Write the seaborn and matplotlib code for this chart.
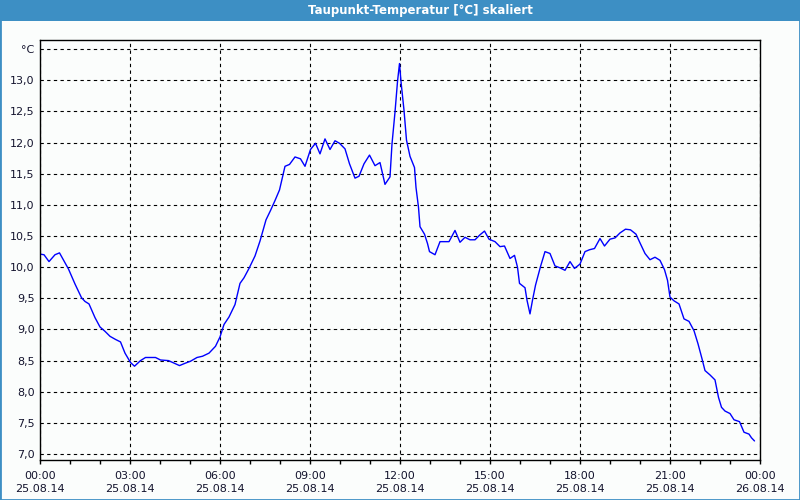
import matplotlib
matplotlib.use("Agg")
import matplotlib.pyplot as plt
import matplotlib.dates as mdates
from matplotlib.patches import Rectangle
from matplotlib.ticker import FixedLocator, FixedFormatter
import seaborn as sns
import pandas as pd

# ---- data ----
title = "Taupunkt-Temperatur [°C] skaliert"
start_day = "2014-08-25"
minutes = [0, 8, 18, 30, 39, 57, 70, 83, 90, 98, 110, 120, 130, 140, 151, 161, 170,
           181, 189, 201, 211, 231, 241, 257, 268, 279, 291, 301, 314, 325, 338, 351,
           360, 368, 378, 390, 400, 408, 418, 430, 440, 445, 452, 461, 470, 479, 490,
           499, 510, 521, 530, 541, 551, 560, 570, 580, 590, 599, 610, 619, 630, 638,
           648, 659, 670, 680, 690, 700, 704, 710, 715, 719, 722, 728, 733, 740, 749,
           752, 757, 760, 769, 775, 779, 790, 800, 818, 830, 840, 850, 860, 870, 880,
           889, 898, 910, 920, 929, 940, 949, 955, 959, 970, 974, 980, 985, 991, 1001,
           1010, 1020, 1030, 1040, 1050, 1060, 1069, 1080, 1090, 1099, 1109, 1120, 1129,
           1140, 1150, 1160, 1171, 1181, 1192, 1200, 1210, 1220, 1230, 1240, 1249, 1255,
           1260, 1268, 1278, 1288, 1298, 1308, 1316, 1324, 1330, 1340, 1350, 1357, 1363,
           1370, 1380, 1388, 1399, 1408, 1418, 1423, 1429]
dew_point = [10.21, 10.20, 10.09, 10.20, 10.23, 9.97, 9.73, 9.51, 9.45, 9.41, 9.19, 9.04,
             8.97, 8.89, 8.84, 8.80, 8.62, 8.47, 8.41, 8.50, 8.55, 8.55, 8.51, 8.50, 8.46,
             8.42, 8.46, 8.49, 8.55, 8.57, 8.62, 8.73, 8.88, 9.08, 9.20, 9.40, 9.74, 9.83,
             9.98, 10.18, 10.42, 10.56, 10.76, 10.91, 11.07, 11.24, 11.62, 11.65, 11.77,
             11.74, 11.62, 11.89, 11.99, 11.82, 12.06, 11.89, 12.03, 11.99, 11.90, 11.66,
             11.43, 11.46, 11.66, 11.80, 11.63, 11.68, 11.33, 11.45, 11.98, 12.49, 12.98,
             13.27, 12.98, 12.52, 12.04, 11.78, 11.60, 11.28, 10.96, 10.65, 10.53, 10.38,
             10.25, 10.20, 10.41, 10.41, 10.59, 10.40, 10.48, 10.44, 10.44, 10.52, 10.58,
             10.45, 10.41, 10.33, 10.34, 10.14, 10.19, 10.00, 9.74, 9.67, 9.47, 9.25, 9.47,
             9.71, 10.01, 10.25, 10.22, 10.02, 9.99, 9.95, 10.09, 9.98, 10.05, 10.25, 10.28,
             10.30, 10.46, 10.34, 10.45, 10.47, 10.55, 10.61, 10.60, 10.53, 10.39, 10.22,
             10.12, 10.16, 10.11, 9.96, 9.79, 9.52, 9.46, 9.41, 9.17, 9.13, 8.98, 8.77,
             8.53, 8.34, 8.27, 8.19, 7.91, 7.75, 7.69, 7.65, 7.55, 7.52, 7.35, 7.32, 7.26,
             7.21]
y_ticks = [7.0, 7.5, 8.0, 8.5, 9.0, 9.5, 10.0, 10.5, 11.0, 11.5, 12.0, 12.5, 13.0, 13.5]
y_labels = ["7,0", "7,5", "8,0", "8,5", "9,0", "9,5", "10,0", "10,5", "11,0", "11,5",
            "12,0", "12,5", "13,0", "°C"]

# ---- styling ----
sns.set_theme(style="white")
plt.rcParams["font.family"] = ["DejaVu Sans"]
BLUE_BAR = "#3d8fc4"
BG = "#fbfdfc"
TXT = "#14142e"

base = pd.Timestamp(start_day)
df = pd.DataFrame({
    "time": [base + pd.Timedelta(minutes=m) for m in minutes],
    "value": dew_point,
})

fig = plt.figure(figsize=(8, 5), dpi=100, facecolor=BG)
ax = fig.add_axes([40 / 800, 40 / 500, 720 / 800, 420 / 500])
ax.set_facecolor(BG)

sns.lineplot(data=df, x="time", y="value", ax=ax, color="#0000ff", linewidth=1.0)

ax.set_xlim(base, base + pd.Timedelta(days=1))
ax.set_ylim(6.904, 13.648)
ax.set_xlabel("")
ax.set_ylabel("")

ax.xaxis.set_major_locator(mdates.HourLocator(byhour=range(0, 24, 3)))
ax.xaxis.set_minor_locator(mdates.HourLocator())
ax.xaxis.set_major_formatter(mdates.DateFormatter("%H:%M\n%d.%m.%y"))
ax.yaxis.set_major_locator(FixedLocator(y_ticks))
ax.yaxis.set_major_formatter(FixedFormatter(y_labels))

ax.tick_params(axis="x", which="major", direction="out", length=3, width=1,
               color="black", pad=5, labelsize=8, labelcolor=TXT, bottom=True)
ax.tick_params(axis="x", which="minor", direction="out", length=3, width=1,
               color="black", bottom=True)
ax.tick_params(axis="y", which="major", length=0, pad=4, labelsize=8, labelcolor=TXT)
for lab in ax.get_xticklabels():
    lab.set_linespacing(1.35)

ax.grid(True, which="major", color="black", linestyle=(0, (3, 3)), linewidth=0.8)
for s in ax.spines.values():
    s.set_visible(True)
    s.set_color("black")
    s.set_linewidth(1.0)

# title bar
fig.patches.append(Rectangle((0, 479 / 500), 1, 21 / 500, transform=fig.transFigure,
                             facecolor=BLUE_BAR, edgecolor="none", zorder=0))
fig.patches.append(Rectangle((0, 0), 1, 1, transform=fig.transFigure,
                             facecolor="none", edgecolor=BLUE_BAR, linewidth=2.0, zorder=5))
fig.text(420 / 800, 1 - 10.5 / 500, title, ha="center", va="center", color="white",
         fontsize=8.5, fontweight="bold",
         family=["Liberation Sans Narrow", "DejaVu Sans"])

fig.savefig("out.png", dpi=100, facecolor=BG)
